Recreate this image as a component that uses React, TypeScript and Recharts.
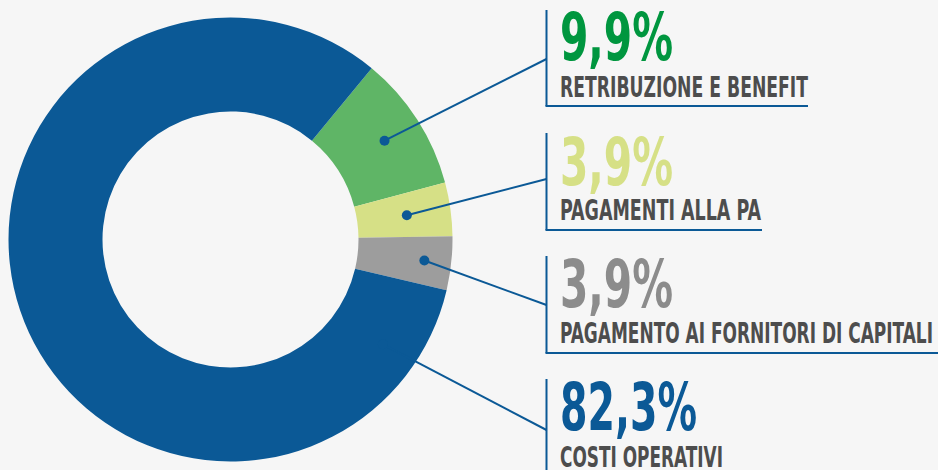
import { Cell, Pie, PieChart } from 'recharts'

const captions = [
  'RETRIBUZIONE E BENEFIT',
  'PAGAMENTI ALLA PA',
  'PAGAMENTO AI FORNITORI DI CAPITALI',
  'COSTI OPERATIVI',
]
const percentages = [9.9, 3.9, 3.9, 82.3]
const sliceColors = ['#5fb566', '#d6e086', '#9d9d9d', '#0b5996']
const valueColors = ['#00963f', '#d6e086', '#8c8c8c', '#0b5996']

const data = captions.map((name, i) => ({ name, value: percentages[i] }))

const BLUE = '#0b5996'
const FONT = '"DejaVu Sans Condensed", "Liberation Sans Narrow", "DejaVu Sans", sans-serif'

// where each callout sits on the right side
const callouts = [
  { top: 10, bottom: 106, lineEnd: 808, joinY: 59, dotR: 183, valueW: 113, captionW: 248, valueY: 60, captionY: 97 },
  { top: 133, bottom: 230, lineEnd: 762, joinY: 179, dotR: 178, valueW: 113, captionW: 201, valueY: 185, captionY: 220 },
  { top: 256, bottom: 353, lineEnd: 940, joinY: 305, dotR: 195, valueW: 113, captionW: 373, valueY: 307, captionY: 343 },
  { top: 379, bottom: null, lineEnd: 0, joinY: 430, dotR: 185, valueW: 137, captionW: 163, valueY: 430, captionY: 467, angle: -34.5 },
]

const RAD = Math.PI / 180
const X0 = 546.5
const TEXT_X = 560

function renderCallout(props: any) {
  const { cx, cy, midAngle, index } = props
  const c = callouts[index]
  const ang = c.angle ?? midAngle
  const dx = cx + c.dotR * Math.cos(-ang * RAD)
  const dy = cy + c.dotR * Math.sin(-ang * RAD)
  const label = percentages[index].toFixed(1).replace('.', ',') + '%'
  return (
    <g key={`callout-${index}`}>
      <line x1={dx} y1={dy} x2={X0} y2={c.joinY} stroke={BLUE} strokeWidth={2} />
      <circle cx={dx} cy={dy} r={5} fill={BLUE} />
      <line x1={X0} y1={c.top} x2={X0} y2={c.bottom ?? 472} stroke={BLUE} strokeWidth={2} />
      {c.bottom != null && (
        <line x1={X0 - 1} y1={c.bottom} x2={c.lineEnd} y2={c.bottom} stroke={BLUE} strokeWidth={2} />
      )}
      <text
        x={TEXT_X}
        y={c.valueY}
        fill={valueColors[index]}
        fontFamily={FONT}
        fontWeight="bold"
        fontSize={66}
        textLength={c.valueW}
        lengthAdjust="spacingAndGlyphs"
      >
        {label}
      </text>
      <text
        x={TEXT_X}
        y={c.captionY}
        fill="#4d4d4d"
        fontFamily={FONT}
        fontWeight="bold"
        fontSize={29}
        textLength={c.captionW}
        lengthAdjust="spacingAndGlyphs"
      >
        {captions[index]}
      </text>
    </g>
  )
}

export default function App() {
  return (
    <div style={{ width: 938, height: 470, background: '#f6f6f6', overflow: 'hidden' }}>
      <style>{'body{margin:0}'}</style>
      <PieChart width={938} height={470} margin={{ top: 0, right: 0, bottom: 0, left: 0 }}>
        <Pie
          data={data}
          dataKey="value"
          nameKey="name"
          cx={230.5}
          cy={239.5}
          innerRadius={128}
          outerRadius={222}
          startAngle={50.5}
          endAngle={-309.5}
          stroke="none"
          label={renderCallout}
          labelLine={false}
          isAnimationActive={false}
        >
          {data.map((d, i) => (
            <Cell key={d.name} fill={sliceColors[i]} />
          ))}
        </Pie>
      </PieChart>
    </div>
  )
}
